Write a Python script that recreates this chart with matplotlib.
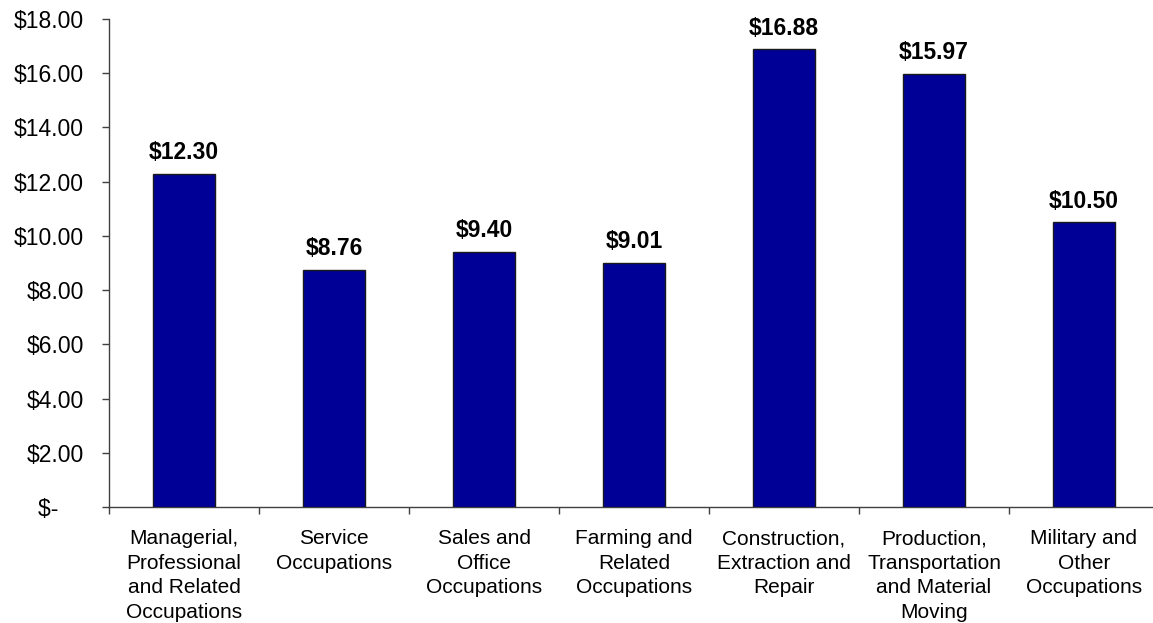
import matplotlib
matplotlib.use("Agg")
import matplotlib.pyplot as plt
import numpy as np

categories = [
    "Managerial,\nProfessional\nand Related\nOccupations",
    "Service\nOccupations",
    "Sales and\nOffice\nOccupations",
    "Farming and\nRelated\nOccupations",
    "Construction,\nExtraction and\nRepair",
    "Production,\nTransportation\nand Material\nMoving",
    "Military and\nOther\nOccupations",
]
wages = [12.30, 8.76, 9.40, 9.01, 16.88, 15.97, 10.50]
y_ticks = [0, 2, 4, 6, 8, 10, 12, 14, 16, 18]
y_tick_labels = ["$-    ", "$2.00", "$4.00", "$6.00", "$8.00", "$10.00",
                 "$12.00", "$14.00", "$16.00", "$18.00"]

plt.rcParams["font.family"] = ["Liberation Sans", "DejaVu Sans"]

W, H = 1153, 623
fig = plt.figure(figsize=(W / 100, H / 100), dpi=100)
ax = fig.add_axes([109 / W, 1 - 507 / H, 1050 / W, 488 / H])

x = np.arange(len(categories))
ax.bar(x, wages, width=0.41, color="#000096", edgecolor="#1a1a1a", linewidth=1.0, zorder=3)

for xi, v in zip(x, wages):
    ax.annotate(f"${v:.2f}", (xi, v), xytext=(0, 7), textcoords="offset points",
                ha="center", va="bottom", fontsize=16.5, fontweight="bold", color="black")

ax.set_xlim(-0.5, len(categories) - 0.5)
ax.set_ylim(0, 18)

ax.set_yticks(y_ticks)
ax.set_yticklabels(y_tick_labels, fontsize=16.5)
ax.tick_params(axis="y", direction="out", length=5, width=1, color="#404040", pad=13)

ax.set_xticks(x)
ax.set_xticklabels(categories, fontsize=15, linespacing=1.37)
ax.tick_params(axis="x", which="major", length=0, pad=16)
ax.set_xticks(np.arange(-0.5, len(categories) - 0.5, 1.0), minor=True)
ax.tick_params(axis="x", which="minor", direction="out", length=5, width=1, color="#404040")

for side in ("top", "right"):
    ax.spines[side].set_visible(False)
for side in ("left", "bottom"):
    ax.spines[side].set_color("#404040")
    ax.spines[side].set_linewidth(1)

fig.savefig("out.png", dpi=100)
